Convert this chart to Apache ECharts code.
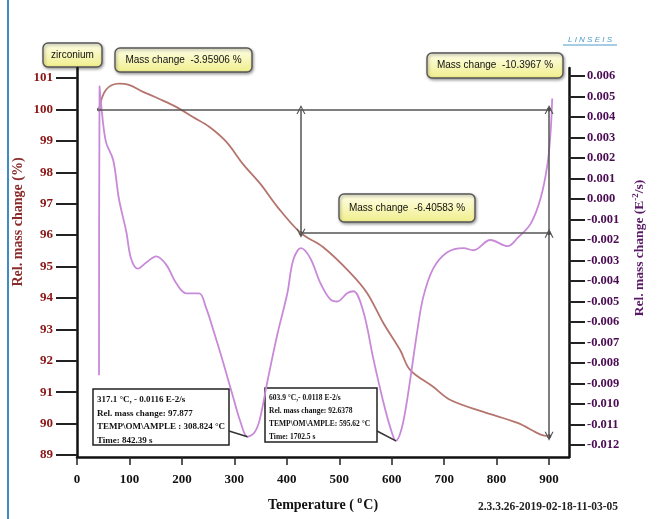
<!DOCTYPE html>
<html>
<head>
<meta charset="utf-8">
<script src="https://cdn.jsdelivr.net/npm/echarts@6/dist/echarts.min.js"></script>
<style>
  html, body { margin: 0; padding: 0; background: #fff; }
  #chart { width: 659px; height: 519px; }
</style>
</head>
<body>
<div id="chart"></div>
<script>
// TG curve (relative mass, %)
const massTemp = [42, 55, 80, 99, 126, 156, 189, 221, 252, 284, 317, 350, 382, 427, 469, 521, 553, 584, 616, 635, 679, 712, 775, 840, 884, 900];
const massValue = [100.0, 100.62, 100.82, 100.78, 100.56, 100.34, 100.08, 99.76, 99.45, 98.98, 98.25, 97.62, 96.9, 96.06, 95.62, 94.8, 94.16, 93.2, 92.34, 91.71, 91.17, 90.75, 90.37, 90.02, 89.65, 89.6];

// DTG curve (E-2/s)
const dtgTemp = [42, 43, 46, 55, 69, 80, 94, 103, 116, 132, 151, 170, 189, 208, 233, 246, 260, 279, 298, 312, 325, 338, 348, 363, 382, 401, 412, 427, 445, 464, 483, 496, 515, 527, 546, 565, 584, 598, 608, 619, 630, 649, 660, 679, 706, 737, 756, 788, 821, 840, 865, 884, 897, 903, 906];
const dtgValue = [-0.0086, 0.0055, 0.0046, 0.0028, 0.0019, 0.0000, -0.0016, -0.0029, -0.0034, -0.0031, -0.0028, -0.0032, -0.0041, -0.0046, -0.0046, -0.0053, -0.0064, -0.0080, -0.0097, -0.0109, -0.0116, -0.0114, -0.0108, -0.0089, -0.0066, -0.0046, -0.0030, -0.0024, -0.0029, -0.0041, -0.0049, -0.0050, -0.0046, -0.0045, -0.0055, -0.0078, -0.0099, -0.0112, -0.0118, -0.0112, -0.0097, -0.0064, -0.0048, -0.0034, -0.0026, -0.0024, -0.0025, -0.0020, -0.0023, -0.0019, -0.0012, 0.00005, 0.0017, 0.0033, 0.0049];

const xTicks = [0, 100, 200, 300, 400, 500, 600, 700, 800, 900];

// mass-change step markers [temp, mass]
const stepStart = [42, 100.0];
const stepMid = [427, 96.06];
const stepEnd = [900, 89.6];
// DTG minima read out in the info boxes [temp, rate]
const dtgMinA = [325, -0.0116];
const dtgMinB = [608, -0.0118];

const SERIF = '"Liberation Serif", "Times New Roman", serif';
const SANS = '"Liberation Sans", Arial, sans-serif';
const chevron = 'path://M0,10 L5,0 L10,10 L8.6,10 L5,2.8 L1.4,10 Z';

const zip = (a, b) => a.map((v, i) => [v, b[i]]);

const chart = echarts.init(document.getElementById('chart'));

function yellowBox(x, y, w, h, text) {
  return {
    type: 'group',
    children: [
      {
        type: 'rect',
        shape: { x: x, y: y, width: w, height: h, r: 5 },
        style: {
          fill: new echarts.graphic.LinearGradient(0, 0, 0, 1, [
            { offset: 0, color: '#ffffea' },
            { offset: 1, color: '#f0ee8a' }
          ]),
          stroke: '#555',
          lineWidth: 1.4,
          shadowBlur: 3,
          shadowOffsetX: 1,
          shadowOffsetY: 1.5,
          shadowColor: 'rgba(0,0,0,0.35)'
        }
      },
      {
        type: 'text',
        style: {
          text: text,
          x: x + w / 2,
          y: y + h / 2,
          align: 'center',
          verticalAlign: 'middle',
          font: '10px ' + SANS,
          fill: '#111'
        }
      }
    ]
  };
}

function infoBox(x, y, w, h, lines, size, lh) {
  return {
    type: 'group',
    children: [
      {
        type: 'rect',
        shape: { x: x, y: y, width: w, height: h },
        style: { fill: '#fff', stroke: '#222', lineWidth: 1.5 }
      },
      {
        type: 'text',
        style: {
          text: lines.join('\n'),
          x: x + 4,
          y: y + 4,
          font: 'bold ' + size + 'px ' + SERIF,
          lineHeight: lh,
          fill: '#111'
        }
      }
    ]
  };
}

const option = {
  animation: false,
  backgroundColor: '#fff',
  grid: [
    { left: 77, right: 90, top: 78, bottom: 64 },
    { left: 77, right: 90, top: 76, bottom: 74 },
    { left: 77, right: 90, top: 68, bottom: 62 }
  ],
  xAxis: [
    { type: 'value', gridIndex: 0, min: 0, max: 938, show: false },
    { type: 'value', gridIndex: 1, min: 0, max: 938, show: false },
    {
      type: 'value', gridIndex: 2, min: 0, max: 938,
      splitLine: { show: false },
      axisLine: { onZero: false, lineStyle: { color: '#111', width: 2.5 } },
      axisTick: { customValues: xTicks, length: 8, lineStyle: { color: '#222', width: 1.5 } },
      axisLabel: {
        customValues: xTicks,
        margin: 16,
        color: '#111',
        fontFamily: SERIF,
        fontWeight: 'bold',
        fontSize: 13
      }
    }
  ],
  yAxis: [
    {
      type: 'value', gridIndex: 0, position: 'left',
      min: 89, max: 101, interval: 1,
      splitLine: { show: false },
      axisLine: { show: false, onZero: false },
      axisTick: { show: true, length: 21, lineStyle: { color: '#222', width: 2 } },
      axisLabel: {
        margin: 24,
        color: '#8b1414',
        fontFamily: SERIF,
        fontWeight: 'bold',
        fontSize: 13
      }
    },
    {
      type: 'value', gridIndex: 1, position: 'right',
      min: -0.012, max: 0.006, interval: 0.001,
      splitLine: { show: false },
      axisLine: { show: false, onZero: false },
      axisTick: { show: true, length: 16, lineStyle: { color: '#222', width: 2 } },
      axisLabel: {
        margin: 18,
        color: '#4a0c52',
        fontFamily: SERIF,
        fontWeight: 'bold',
        fontSize: 12.5,
        formatter: function (v) {
          if (Math.abs(v) < 1e-9) return '0.000';
          return v.toFixed(3);
        }
      }
    },
    {
      type: 'value', gridIndex: 2, position: 'left', min: 0, max: 1,
      splitLine: { show: false }, axisTick: { show: false }, axisLabel: { show: false },
      axisLine: { show: true, onZero: false, lineStyle: { color: '#111', width: 2.5 } }
    },
    {
      type: 'value', gridIndex: 2, position: 'right', min: 0, max: 1,
      splitLine: { show: false }, axisTick: { show: false }, axisLabel: { show: false },
      axisLine: { show: true, onZero: false, lineStyle: { color: '#111', width: 2.5 } }
    }
  ],
  series: [
    {
      name: 'mass',
      type: 'line',
      xAxisIndex: 0,
      yAxisIndex: 0,
      data: zip(massTemp, massValue),
      showSymbol: false,
      smooth: 0.35,
      lineStyle: { color: '#b5756f', width: 1.8 },
      markLine: {
        silent: true,
        animation: false,
        label: { show: false },
        symbol: ['none', 'none'],
        symbolSize: [9, 9],
        lineStyle: { color: '#555', width: 1.5, type: 'solid' },
        data: [
          [{ coord: [stepStart[0], stepStart[1]] }, { coord: [stepEnd[0], stepStart[1]] }],
          [{ coord: [stepMid[0], stepStart[1]], symbol: chevron }, { coord: [stepMid[0], stepMid[1]], symbol: chevron }],
          [{ coord: [stepMid[0], stepMid[1]] }, { coord: [stepEnd[0], stepMid[1]] }],
          [{ coord: [stepEnd[0], stepStart[1]], symbol: chevron }, { coord: [stepEnd[0], stepMid[1]] }],
          [{ coord: [stepEnd[0], stepMid[1]], symbol: chevron }, { coord: [stepEnd[0], stepEnd[1]], symbol: chevron }]
        ]
      }
    },
    {
      name: 'dtg',
      type: 'line',
      xAxisIndex: 1,
      yAxisIndex: 1,
      data: zip(dtgTemp, dtgValue),
      showSymbol: false,
      smooth: 0.35,
      lineStyle: { color: '#c88ad8', width: 1.8 },
      markLine: {
        silent: true,
        animation: false,
        label: { show: false },
        symbol: ['none', 'none'],
        lineStyle: { color: '#333', width: 1.5, type: 'solid' },
        data: [
          [{ x: 229, y: 431 }, { coord: dtgMinA }],
          [{ x: 377, y: 431 }, { coord: dtgMinB }]
        ]
      }
    },
    {
      name: 'steps',
      type: 'scatter',
      xAxisIndex: 0,
      yAxisIndex: 0,
      symbolSize: 4,
      itemStyle: { color: '#111' },
      data: [
        stepStart,
        [stepEnd[0], stepStart[1]],
        stepMid,
        [stepEnd[0], stepMid[1]],
        stepEnd
      ]
    }
  ],
  graphic: [
    {
      type: 'line',
      shape: { x1: 8, y1: 0, x2: 8, y2: 519 },
      style: { stroke: '#3d8dc4', lineWidth: 2 }
    },
    {
      type: 'text',
      style: {
        text: 'L I N S E I S',
        x: 590, y: 40,
        align: 'center', verticalAlign: 'middle',
        font: 'italic 8px ' + SANS,
        fill: '#4f9bc9'
      }
    },
    {
      type: 'line',
      shape: { x1: 563, y1: 45, x2: 617, y2: 45 },
      style: { stroke: '#4f9bc9', lineWidth: 1 }
    },
    yellowBox(43, 43, 59, 24, 'zirconium'),
    yellowBox(115, 48, 137, 24, 'Mass change  -3.95906 %'),
    yellowBox(427, 53, 136, 25, 'Mass change  -10.3967 %'),
    yellowBox(339, 194, 136, 28, 'Mass change  -6.40583 %'),
    infoBox(93, 389, 136, 56, [
      '317.1 °C, - 0.0116 E-2/s',
      'Rel. mass change: 97.877',
      'TEMP\\OM\\AMPLE : 308.824 °C',
      'Time: 842.39 s'
    ], 9, 13.5),
    infoBox(265, 388, 112, 54, [
      '603.9 °C,- 0.0118 E-2/s',
      'Rel. mass change: 92.6378',
      'TEMP\\OM\\AMPLE: 595.62 °C',
      'Time: 1702.5 s'
    ], 7.5, 13),
    {
      type: 'text',
      rotation: Math.PI / 2,
      x: 18, y: 222,
      style: {
        text: 'Rel. mass change (%)',
        x: 0, y: 0,
        align: 'center', verticalAlign: 'middle',
        font: 'bold 14px ' + SERIF,
        fill: '#8b2a2a'
      }
    },
    {
      type: 'text',
      rotation: Math.PI / 2,
      x: 640, y: 248,
      style: {
        text: '{a|Rel. mass change (E}{s|-2}{a|/s)}',
        x: 0, y: 0,
        align: 'center', verticalAlign: 'middle',
        rich: {
          a: { font: 'bold 13.5px ' + SERIF, fill: '#5a1a66', color: '#5a1a66' },
          s: { font: 'bold 9px ' + SERIF, fill: '#5a1a66', color: '#5a1a66', padding: [0, 0, 8, 0] }
        }
      }
    },
    {
      type: 'text',
      x: 323, y: 505,
      style: {
        text: '{a|Temperature ( }{s|o}{a|C)}',
        x: 0, y: 0,
        align: 'center', verticalAlign: 'middle',
        rich: {
          a: { font: 'bold 14px ' + SERIF, fill: '#111', color: '#111' },
          s: { font: 'bold 10px ' + SERIF, fill: '#111', color: '#111', padding: [0, 1, 9, 0] }
        }
      }
    },
    {
      type: 'text',
      x: 548, y: 507,
      style: {
        text: '2.3.3.26-2019-02-18-11-03-05',
        x: 0, y: 0,
        align: 'center', verticalAlign: 'middle',
        font: 'bold 11.5px ' + SERIF,
        fill: '#222'
      }
    }
  ]
};

chart.setOption(option);
</script>
</body>
</html>
